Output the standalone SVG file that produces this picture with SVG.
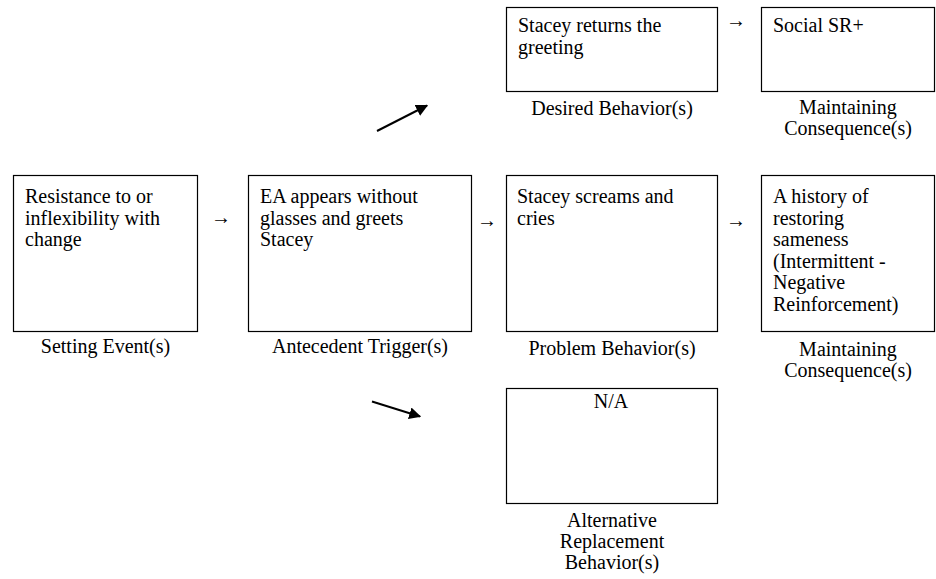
<svg xmlns="http://www.w3.org/2000/svg" width="936" height="579" viewBox="0 0 936 579">
<style>
  .box { fill: #fff; stroke: #000; stroke-width: 1.2; }
  text { font-family: "Liberation Serif", "Times New Roman", serif; font-size: 20px; fill: #000; }
  .c { text-anchor: middle; }
  .arr { font-size: 20px; text-anchor: middle; }
  .conn { stroke: #000; stroke-width: 2; fill: none; }
</style>
<defs>
  <marker id="ah" viewBox="0 0 10 10" refX="9" refY="5" markerWidth="6" markerHeight="6" orient="auto" markerUnits="strokeWidth">
    <path d="M0,0 L10,5 L0,10 z" fill="#000"/>
  </marker>
</defs>
<rect width="936" height="579" fill="#fff"/>

<g id="setting">
  <rect class="box" x="13.5" y="175.5" width="184" height="156"/>
  <text x="25" y="203">Resistance to or</text>
  <text x="25" y="224.5">inflexibility with</text>
  <text x="25" y="246">change</text>
  <text class="c" x="105.5" y="353">Setting Event(s)</text>
</g>

<g id="antecedent">
  <rect class="box" x="248.5" y="175.5" width="223" height="156"/>
  <text x="260" y="203">EA appears without</text>
  <text x="260" y="224.5">glasses and greets</text>
  <text x="260" y="246">Stacey</text>
  <text class="c" x="360" y="353">Antecedent Trigger(s)</text>
</g>

<g id="problem">
  <rect class="box" x="506.5" y="175.5" width="211" height="156"/>
  <text x="517" y="203">Stacey screams and</text>
  <text x="517" y="224.5">cries</text>
  <text class="c" x="612" y="355">Problem Behavior(s)</text>
</g>

<g id="consequence">
  <rect class="box" x="761.5" y="175.5" width="173" height="156"/>
  <text x="773" y="203">A history of</text>
  <text x="773" y="224.5">restoring</text>
  <text x="773" y="246">sameness</text>
  <text x="773" y="267.5">(Intermittent -</text>
  <text x="773" y="289">Negative</text>
  <text x="773" y="310.5">Reinforcement)</text>
  <text class="c" x="848" y="356">Maintaining</text>
  <text class="c" x="848" y="377">Consequence(s)</text>
</g>

<g id="desired">
  <rect class="box" x="506.5" y="7.5" width="211" height="84"/>
  <text x="518" y="32">Stacey returns the</text>
  <text x="518" y="53.5">greeting</text>
  <text class="c" x="612" y="115">Desired Behavior(s)</text>
</g>

<g id="social">
  <rect class="box" x="761.5" y="7.5" width="173" height="84"/>
  <text x="773" y="32">Social SR+</text>
  <text class="c" x="848" y="114">Maintaining</text>
  <text class="c" x="848" y="135">Consequence(s)</text>
</g>

<g id="alternative">
  <rect class="box" x="506.5" y="388.5" width="211" height="115"/>
  <text class="c" x="611" y="408">N/A</text>
  <text class="c" x="612" y="527">Alternative</text>
  <text class="c" x="612" y="548">Replacement</text>
  <text class="c" x="612" y="569">Behavior(s)</text>
</g>

<g id="connectors">
  <text class="arr" x="221" y="224">→</text>
  <text class="arr" x="487" y="227">→</text>
  <text class="arr" x="736" y="227">→</text>
  <text class="arr" x="736" y="27">→</text>
  <line class="conn" x1="377" y1="131" x2="427" y2="105.5" marker-end="url(#ah)"/>
  <line class="conn" x1="372" y1="401.5" x2="420" y2="416.5" marker-end="url(#ah)"/>
</g>
</svg>
